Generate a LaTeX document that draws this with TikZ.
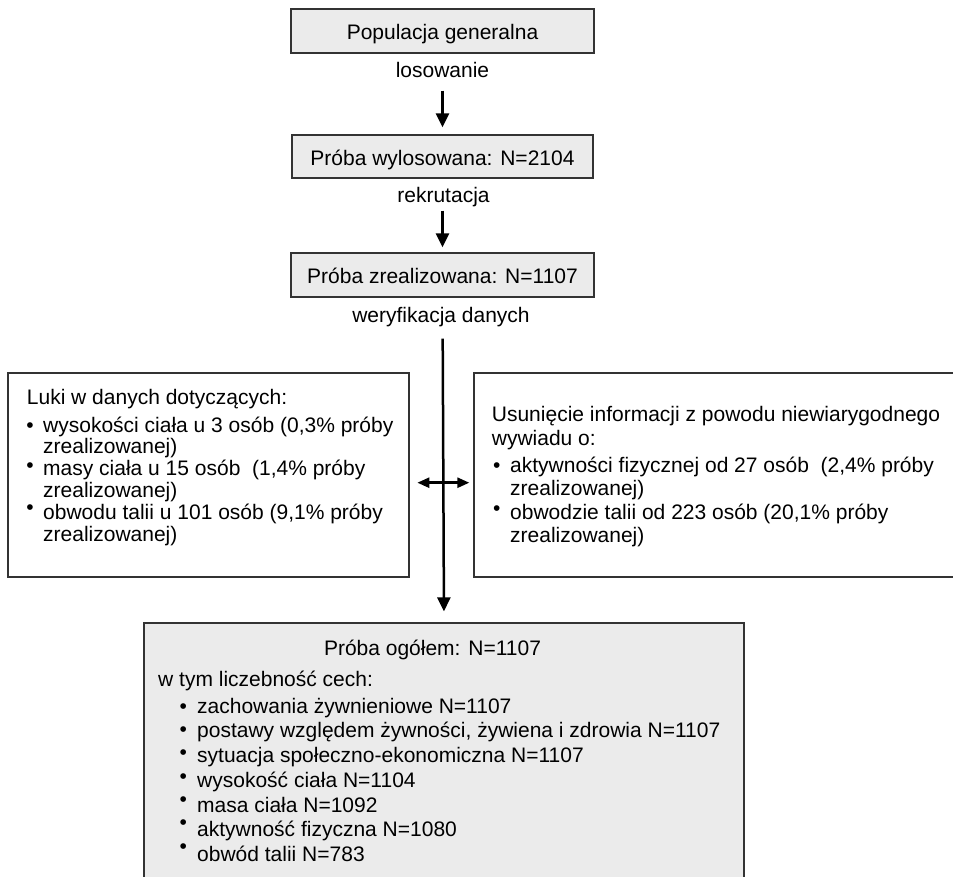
\documentclass[tikz,border=0pt]{standalone}
\usepackage{fontspec}
\setmainfont{Liberation Sans}
\usetikzlibrary{arrows.meta,calc}
\definecolor{boxgray}{HTML}{EBEBEB}
\definecolor{edgecol}{HTML}{333333}
\newcommand{\mybul}[2]{\makebox[#1pt][l]{\raisebox{#2pt}{•}}}
\begin{document}
\begin{tikzpicture}[x=1pt,y=-1pt,
  box/.style={draw=edgecol, line width=1.3pt, rectangle, inner sep=0pt,
    font=\fontsize{21}{25}\selectfont, text height=17pt, text depth=0pt},
  graybox/.style={box, fill=boxgray},
  whitebox/.style={box, fill=white},
  txt/.style={inner sep=0pt, font=\fontsize{21}{25}\selectfont},
  arr/.style={line width=2.5pt, -{Triangle[width=13pt,length=14pt]}},
  darr/.style={line width=2.5pt, {Triangle[width=10pt,length=12pt]}-{Triangle[width=10pt,length=12pt]}},
]
\useasboundingbox (0,0) rectangle (953,876);
\clip (0,0) rectangle (953,876);

% top chain
\node[graybox, minimum width=303pt, minimum height=44pt] (pop) at (442.5,31) {Populacja generalna};
\node[txt, anchor=base] (los) at (442.5,77.3) {losowanie};
\node[graybox, minimum width=301pt, minimum height=43pt] (wyl) at (442.5,156.5) {Próba wylosowana: N=2104};
\node[txt, anchor=base] (rek) at (443.5,202.3) {rekrutacja};
\node[graybox, minimum width=303pt, minimum height=44pt] (zre) at (442.5,275) {Próba zrealizowana: N=1107};
\node[txt, anchor=base] (wer) at (441,322) {weryfikacja danych};

% side boxes
\node[whitebox, minimum width=401pt, minimum height=204pt] (lb) at (208.5,475) {};
\node[whitebox, minimum width=491pt, minimum height=204pt] (rb) at (719.5,475) {};

% bottom box
\node[graybox, minimum width=600pt, minimum height=267pt] (tot) at (444,756.5) {};

% arrows
\draw[arr, shorten <=37pt, shorten >=7pt] (pop.south) -- (wyl.north);
\draw[arr, shorten <=32pt, shorten >=5pt] (wyl.south) -- (zre.north);
\draw[arr, shorten <=41pt, shorten >=11pt] (zre.south) -- (tot.north);
\draw[darr, shorten <=7.7pt, shorten >=4pt] ($(lb.east)+(0,7.7)$) -- ($(rb.west)+(0,7.7)$);

% left box text
\node[txt, anchor=base west] (l0) at (26.7,404) {Luki w danych dotyczących:};
\node[txt, anchor=base west] (l1) at (26.3,432) {\mybul{16.7}{0}wysokości ciała u 3 osób (0,3\% próby};
\node[txt, anchor=base west] (l2) at (43,453.8) {zrealizowanej)};
\node[txt, anchor=base west] (l3) at (26.3,475.6) {\mybul{16.7}{3}masy ciała u 15 osób\ \ (1,4\% próby};
\node[txt, anchor=base west] (l4) at (43,497.4) {zrealizowanej)};
\node[txt, anchor=base west] (l5) at (26.3,519.2) {\mybul{16.7}{5}obwodu talii u 101 osób (9,1\% próby};
\node[txt, anchor=base west] (l6) at (43,541) {zrealizowanej)};

% right box text
\node[txt, anchor=base west] (r0) at (491.7,421) {Usunięcie informacji z powodu niewiarygodnego};
\node[txt, anchor=base west] (r1) at (491.7,445) {wywiadu o:};
\node[txt, anchor=base west] (r2) at (493,472) {\mybul{17}{0}aktywności fizycznej od 27 osób\ \ (2,4\% próby};
\node[txt, anchor=base west] (r3) at (510,495) {zrealizowanej)};
\node[txt, anchor=base west] (r4) at (493,519) {\mybul{17}{4}obwodzie talii od 223 osób (20,1\% próby};
\node[txt, anchor=base west] (r5) at (510,542) {zrealizowanej)};

% bottom box text
\node[txt, anchor=base] (t0) at (432.5,655) {Próba ogółem: N=1107};
\node[txt, anchor=base west] (t1) at (158,686) {w tym liczebność cech:};
\node[txt, anchor=base west] (b1) at (179.3,713) {\mybul{17.7}{0}zachowania żywnieniowe N=1107};
\node[txt, anchor=base west] (b2) at (179.3,737.75) {\mybul{17.7}{1.5}postawy względem żywności, żywiena i zdrowia N=1107};
\node[txt, anchor=base west] (b3) at (179.3,762.5) {\mybul{17.7}{3.5}sytuacja społeczno-ekonomiczna N=1107};
\node[txt, anchor=base west] (b4) at (179.3,787.25) {\mybul{17.7}{4}wysokość ciała N=1104};
\node[txt, anchor=base west] (b5) at (179.3,812) {\mybul{17.7}{6}masa ciała N=1092};
\node[txt, anchor=base west] (b6) at (179.3,836.75) {\mybul{17.7}{7.5}aktywność fizyczna N=1080};
\node[txt, anchor=base west] (b7) at (179.3,861.5) {\mybul{17.7}{8}obwód talii N=783};
\end{tikzpicture}
\end{document}
